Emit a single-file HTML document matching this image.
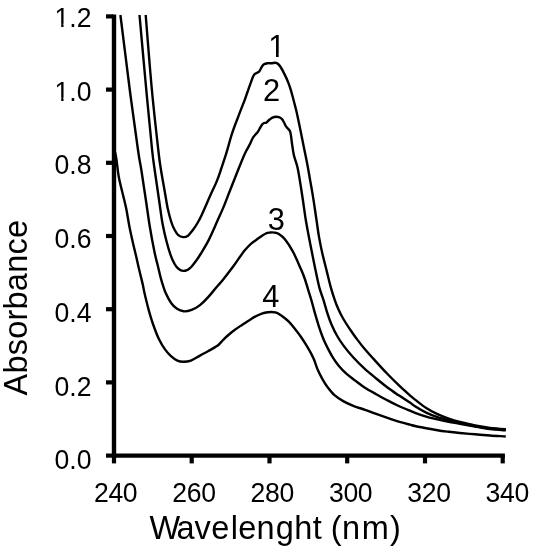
<!DOCTYPE html>
<html><head><meta charset="utf-8"><title>Absorbance spectra</title>
<style>
html,body{margin:0;padding:0;background:#fff;}
body{width:534px;height:550px;overflow:hidden;}
svg{display:block;}
text{font-family:"Liberation Sans",Arial,sans-serif;fill:#000;}
.cv{fill:none;stroke:#000;stroke-width:2.40px;stroke-linejoin:round;stroke-linecap:butt;}
</style></head><body>
<svg width="534" height="550" viewBox="0 0 534 550">
<rect width="534" height="550" fill="#fff"/>
<g class="cv">
<path d="M145.7 15.0C146.7 27.5 149.8 67.5 151.9 90.0C154.0 112.5 156.8 136.7 158.3 150.0C159.8 163.3 159.9 162.9 161.0 170.0C162.1 177.1 163.8 185.9 164.9 192.5C166.1 199.1 166.8 204.4 167.9 209.3C169.0 214.2 170.2 218.6 171.3 222.0C172.4 225.4 173.5 227.8 174.7 230.0C175.9 232.2 176.9 234.0 178.3 235.2C179.7 236.4 181.5 237.0 183.1 237.1C184.7 237.2 186.3 236.9 188.0 235.7C189.7 234.4 191.6 231.7 193.2 229.6C194.8 227.5 196.1 225.4 197.5 223.0C198.9 220.6 199.7 219.2 201.7 214.9C203.7 210.6 207.2 202.4 209.6 197.0C212.0 191.6 214.4 186.9 216.3 182.4C218.2 177.9 219.2 174.8 220.8 170.0C222.4 165.2 224.2 160.0 226.1 153.9C228.0 147.8 229.9 140.1 232.0 133.7C234.1 127.2 236.7 120.8 238.8 115.2C240.9 109.6 243.2 103.9 244.7 100.0C246.1 96.1 246.6 94.5 247.5 92.0C248.4 89.5 249.0 87.5 250.0 84.8C251.0 82.1 252.5 77.7 253.5 75.8C254.5 73.9 255.1 73.9 256.1 73.2C257.1 72.5 258.4 72.4 259.3 71.4C260.2 70.4 260.7 68.5 261.5 67.3C262.3 66.1 262.9 65.0 264.0 64.3C265.1 63.6 266.6 63.4 267.8 63.2C269.1 63.0 270.2 63.4 271.5 63.3C272.8 63.2 274.2 62.7 275.3 62.8C276.4 62.9 277.2 63.2 278.1 64.0C279.0 64.8 279.8 65.8 280.9 67.5C282.0 69.2 283.4 71.8 284.6 74.4C285.9 77.0 287.3 80.1 288.4 82.9C289.5 85.7 290.3 88.4 291.2 91.3C292.1 94.2 292.6 96.5 293.6 100.3C294.6 104.1 296.0 109.2 297.1 114.2C298.2 119.2 299.3 124.5 300.4 130.0C301.5 135.4 302.7 141.3 303.8 146.9C304.9 152.5 306.1 158.1 307.2 163.7C308.3 169.3 309.2 175.0 310.2 180.6C311.2 186.2 312.1 190.8 313.1 197.4C314.2 204.0 315.5 213.4 316.5 220.0C317.5 226.6 318.0 231.3 319.0 236.9C320.0 242.5 321.1 248.1 322.4 253.7C323.7 259.3 325.2 265.0 326.6 270.6C328.0 276.2 329.4 282.4 330.8 287.4C332.2 292.3 333.6 296.7 334.9 300.3C336.1 303.9 337.0 306.1 338.3 309.0C339.6 311.9 340.9 314.7 342.8 318.0C344.7 321.3 347.1 325.1 349.5 328.6C351.9 332.1 354.2 335.5 356.9 339.1C359.6 342.7 362.6 346.6 365.8 350.3C369.0 354.1 372.4 357.7 376.0 361.6C379.6 365.6 383.7 370.1 387.5 374.0C391.3 377.9 395.0 381.6 398.7 385.2C402.4 388.8 407.2 392.9 409.9 395.3C412.6 397.7 412.3 397.5 415.0 399.6C417.7 401.7 422.4 405.6 426.2 408.0C429.9 410.4 433.8 412.4 437.5 414.2C441.2 416.0 445.0 417.4 448.7 418.7C452.4 420.0 455.5 420.9 459.9 422.0C464.3 423.1 470.0 424.5 475.0 425.5C480.0 426.5 484.9 427.3 490.0 427.9C495.1 428.5 503.2 429.1 505.8 429.3"/>
<path d="M139.5 15.0C140.6 27.5 144.2 67.5 146.3 90.0C148.4 112.5 150.7 136.7 152.1 150.0C153.5 163.3 153.8 163.3 154.7 170.0C155.6 176.7 156.7 183.7 157.6 190.0C158.5 196.3 159.4 202.3 160.2 208.0C161.0 213.7 161.5 218.3 162.6 224.0C163.7 229.7 165.3 236.8 166.7 242.0C168.0 247.2 169.4 251.6 170.7 255.3C172.0 259.0 173.3 261.7 174.6 264.0C175.9 266.3 177.3 267.9 178.7 269.0C180.1 270.1 181.6 270.8 183.1 270.9C184.6 271.0 186.2 270.4 187.6 269.8C188.9 269.2 190.0 268.2 191.2 267.0C192.4 265.8 193.4 264.5 195.0 262.3C196.6 260.1 198.4 257.6 200.6 254.0C202.8 250.4 205.7 245.9 208.4 240.6C211.1 235.3 214.4 227.6 216.9 222.0C219.4 216.4 221.4 212.2 223.6 206.9C225.8 201.6 227.9 195.7 230.2 190.0C232.4 184.3 234.7 178.5 237.1 172.5C239.5 166.5 242.5 158.7 244.7 153.9C246.8 149.2 248.7 146.7 250.0 144.0C251.3 141.3 251.6 140.0 252.8 138.0C254.1 136.0 256.2 133.9 257.5 132.2C258.8 130.4 259.5 128.8 260.3 127.5C261.1 126.2 261.7 125.0 262.3 124.2C262.9 123.5 263.3 123.3 264.0 123.0C264.7 122.7 265.4 123.2 266.4 122.6C267.3 122.0 268.7 120.3 269.7 119.5C270.7 118.7 271.4 118.0 272.5 117.6C273.6 117.1 275.0 116.8 276.2 116.8C277.4 116.8 278.8 117.0 279.8 117.5C280.8 118.0 281.6 118.6 282.3 119.5C283.0 120.4 283.6 121.7 284.2 122.8C284.8 123.9 285.1 125.0 285.7 126.0C286.3 127.0 287.2 127.7 287.9 128.6C288.6 129.5 289.5 130.1 290.0 131.3C290.5 132.5 290.6 133.7 291.0 135.9C291.4 138.1 291.6 141.1 292.1 144.3C292.6 147.5 293.0 151.5 293.9 155.3C294.8 159.1 296.3 162.3 297.4 167.1C298.5 171.9 299.5 178.3 300.4 183.9C301.3 189.5 302.1 194.8 303.0 200.8C303.9 206.8 304.8 214.0 305.8 220.0C306.8 226.0 307.8 231.3 308.9 236.9C310.0 242.5 311.1 248.1 312.2 253.7C313.3 259.3 314.4 265.0 315.6 270.6C316.8 276.2 318.0 282.4 319.3 287.4C320.6 292.3 322.3 296.1 323.6 300.3C324.9 304.5 325.8 308.3 327.1 312.4C328.4 316.5 329.9 320.8 331.6 324.7C333.3 328.6 335.1 332.4 337.2 336.0C339.2 339.6 341.2 342.5 343.9 346.1C346.6 349.7 350.0 353.8 353.4 357.5C356.8 361.2 360.2 364.7 364.0 368.2C367.8 371.7 372.3 375.3 376.2 378.5C380.1 381.7 383.8 384.7 387.5 387.5C391.2 390.3 395.0 392.8 398.7 395.3C402.4 397.8 407.2 400.8 409.9 402.6C412.6 404.4 412.3 404.6 415.0 406.3C417.7 408.0 422.4 410.8 426.2 412.6C429.9 414.4 433.8 415.9 437.5 417.2C441.2 418.5 445.0 419.4 448.7 420.3C452.4 421.2 455.5 421.9 459.9 422.9C464.3 423.8 470.0 425.1 475.0 426.0C480.0 426.9 484.9 427.9 490.0 428.5C495.1 429.1 503.2 429.6 505.8 429.8"/>
<path d="M120.4 15.0C122.0 27.5 126.9 67.5 129.8 90.0C132.7 112.5 136.1 136.5 138.0 150.0C139.9 163.5 140.2 162.6 141.5 171.0C142.8 179.4 144.5 191.1 145.9 200.3C147.3 209.5 148.3 217.4 149.7 226.0C151.1 234.6 153.1 245.2 154.5 252.0C155.9 258.8 156.9 261.9 158.0 266.5C159.1 271.1 159.9 275.2 161.2 279.6C162.5 284.0 164.0 289.2 165.7 293.1C167.4 297.0 169.4 300.6 171.3 303.2C173.2 305.8 174.9 307.4 177.0 308.8C179.1 310.2 181.3 311.1 183.7 311.3C186.1 311.5 188.9 310.9 191.6 309.9C194.3 308.9 197.2 307.3 200.0 305.1C202.8 302.9 205.6 300.0 208.4 296.9C211.2 293.8 214.5 289.5 216.9 286.7C219.3 283.9 220.0 283.5 222.8 280.0C225.6 276.5 230.8 269.7 233.7 265.8C236.6 261.9 238.1 259.4 240.0 256.8C241.9 254.2 243.1 252.2 245.0 250.0C246.9 247.8 248.9 245.5 251.2 243.6C253.4 241.7 256.1 240.0 258.5 238.3C260.9 236.6 263.8 234.5 265.8 233.5C267.8 232.5 269.1 232.7 270.5 232.5C271.9 232.3 273.2 232.4 274.5 232.6C275.8 232.8 276.7 232.6 278.4 233.7C280.1 234.8 282.5 236.2 284.9 239.2C287.3 242.1 290.3 246.8 292.8 251.4C295.3 256.0 298.1 262.6 300.0 267.0C301.9 271.4 303.1 274.0 304.5 278.0C305.9 282.0 307.4 287.1 308.5 290.8C309.6 294.5 310.4 296.7 311.4 300.3C312.4 303.9 313.5 308.1 314.7 312.4C315.9 316.6 317.3 321.5 318.7 325.8C320.1 330.1 321.5 334.2 323.1 338.2C324.7 342.2 326.8 346.3 328.5 349.6C330.2 352.9 331.4 355.2 333.1 357.9C334.8 360.6 336.5 363.1 338.7 365.7C340.9 368.3 343.5 371.2 346.3 373.7C349.1 376.2 352.5 378.5 355.6 380.9C358.7 383.2 361.6 385.6 365.0 387.8C368.4 390.0 372.4 392.1 376.2 394.2C379.9 396.3 383.8 398.4 387.5 400.4C391.2 402.4 395.0 404.3 398.7 406.0C402.4 407.7 407.2 409.6 409.9 410.7C412.6 411.8 412.3 411.8 415.0 412.8C417.7 413.8 422.4 415.5 426.2 416.6C429.9 417.7 433.8 418.5 437.5 419.4C441.2 420.3 445.0 421.1 448.7 421.8C452.4 422.5 455.5 423.0 459.9 423.8C464.3 424.6 470.0 425.7 475.0 426.6C480.0 427.5 484.9 428.5 490.0 429.1C495.1 429.7 503.2 430.2 505.8 430.4"/>
<path d="M115.0 152.0C115.2 153.1 115.6 154.2 116.3 158.5C117.0 162.8 117.8 171.4 118.9 177.5C120.0 183.6 121.7 189.5 123.0 194.9C124.3 200.3 125.5 204.8 126.5 210.0C127.5 215.2 128.3 220.8 129.3 226.0C130.3 231.2 131.4 236.1 132.5 241.0C133.6 245.9 134.7 250.3 135.9 255.3C137.1 260.3 138.3 266.0 139.5 271.0C140.7 276.0 142.2 281.8 143.0 285.5C143.8 289.2 143.6 289.4 144.6 293.5C145.6 297.6 147.3 305.0 148.8 310.3C150.3 315.6 151.8 320.7 153.5 325.5C155.2 330.3 157.0 335.1 158.9 339.0C160.8 342.9 162.8 346.3 164.8 349.1C166.8 351.9 168.6 353.9 170.7 355.8C172.8 357.7 175.3 359.6 177.4 360.6C179.5 361.6 181.1 361.7 183.3 361.7C185.6 361.7 188.1 361.6 190.9 360.6C193.7 359.6 197.1 357.2 200.0 355.6C202.9 354.0 205.6 352.6 208.4 351.0C211.2 349.4 215.0 347.4 217.0 346.0C219.0 344.6 219.4 343.9 220.5 342.8C221.6 341.7 222.3 340.7 223.7 339.3C225.1 337.9 227.1 336.1 229.0 334.5C230.9 332.9 232.7 331.4 234.9 329.8C237.1 328.2 239.5 326.6 242.0 324.9C244.5 323.2 247.9 321.1 250.0 319.8C252.1 318.5 252.5 318.0 254.6 316.9C256.7 315.8 260.3 314.2 262.5 313.4C264.7 312.6 266.5 312.4 268.0 312.2C269.5 312.0 270.3 312.0 271.5 312.0C272.7 312.0 273.9 312.1 275.0 312.4C276.1 312.6 276.6 312.5 278.2 313.5C279.8 314.5 282.9 316.6 284.9 318.2C286.9 319.8 288.2 320.9 290.0 322.8C291.8 324.7 293.7 327.4 295.6 329.8C297.5 332.2 299.3 334.5 301.2 337.2C303.1 339.9 305.2 343.3 306.9 346.1C308.6 348.9 310.1 351.6 311.3 353.9C312.5 356.2 313.2 357.5 314.2 360.0C315.2 362.5 316.1 366.1 317.4 369.1C318.7 372.1 320.2 375.1 321.9 378.1C323.6 381.1 325.4 384.3 327.5 387.1C329.6 389.9 331.6 392.6 334.2 394.9C336.8 397.2 340.0 399.3 343.2 401.1C346.4 402.9 349.7 404.4 353.3 405.8C356.9 407.2 361.2 408.5 365.0 409.8C368.8 411.1 372.4 412.6 376.2 413.9C379.9 415.2 383.8 416.5 387.5 417.8C391.2 419.1 395.0 420.6 398.7 421.7C402.4 422.8 407.2 424.0 409.9 424.7C412.6 425.4 412.3 425.4 415.0 426.0C417.7 426.6 422.4 427.5 426.2 428.2C429.9 428.9 433.8 429.6 437.5 430.2C441.2 430.8 445.0 431.3 448.7 431.8C452.4 432.3 455.5 432.6 459.9 433.0C464.3 433.4 470.0 433.9 475.0 434.3C480.0 434.7 484.9 435.1 490.0 435.5C495.1 435.9 503.2 436.3 505.8 436.5"/>
</g>
<g stroke="#000" stroke-width="4.4" fill="none">
<path d="M114 14.6 V457.8"/>
<path d="M112 455.6 H504.9"/>
</g>
<g stroke="#000" stroke-width="4.2" fill="none">
<path d="M106 16.4 H113"/>
<path d="M106 89.6 H113"/>
<path d="M106 162.8 H113"/>
<path d="M106 236.0 H113"/>
<path d="M106 309.2 H113"/>
<path d="M106 382.4 H113"/>
<path d="M106 455.6 H113"/>
<path d="M114.0 455 V463.4"/>
<path d="M191.7 455 V463.4"/>
<path d="M269.5 455 V463.4"/>
<path d="M347.2 455 V463.4"/>
<path d="M425.0 455 V463.4"/>
<path d="M502.7 455 V463.4"/>
</g>
<text transform="translate(91.5 27.0) scale(1.000 1.040)" text-anchor="end" style="font-size:26.6px;">1.2</text>
<text transform="translate(91.5 100.7) scale(1.000 1.040)" text-anchor="end" style="font-size:26.6px;">1.0</text>
<text transform="translate(91.5 174.4) scale(1.000 1.040)" text-anchor="end" style="font-size:26.6px;">0.8</text>
<text transform="translate(91.5 248.1) scale(1.000 1.040)" text-anchor="end" style="font-size:26.6px;">0.6</text>
<text transform="translate(91.5 321.8) scale(1.000 1.040)" text-anchor="end" style="font-size:26.6px;">0.4</text>
<text transform="translate(91.5 395.5) scale(1.000 1.040)" text-anchor="end" style="font-size:26.6px;">0.2</text>
<text transform="translate(91.5 469.2) scale(1.000 1.040)" text-anchor="end" style="font-size:26.6px;">0.0</text>
<text transform="translate(93.9 501.6) scale(1.000 1.040)" text-anchor="start" style="font-size:26.6px;letter-spacing:-0.30px;">240</text>
<text transform="translate(172.2 501.6) scale(1.000 1.040)" text-anchor="start" style="font-size:26.6px;letter-spacing:-0.30px;">260</text>
<text transform="translate(250.6 501.6) scale(1.000 1.040)" text-anchor="start" style="font-size:26.6px;letter-spacing:-0.30px;">280</text>
<text transform="translate(328.9 501.6) scale(1.000 1.040)" text-anchor="start" style="font-size:26.6px;letter-spacing:-0.30px;">300</text>
<text transform="translate(407.3 501.6) scale(1.000 1.040)" text-anchor="start" style="font-size:26.6px;letter-spacing:-0.30px;">320</text>
<text transform="translate(485.6 501.6) scale(1.000 1.040)" text-anchor="start" style="font-size:26.6px;letter-spacing:-0.30px;">340</text>
<text transform="translate(149.6 539.2) scale(1.000 1.050)" text-anchor="start" style="font-size:32.5px;letter-spacing:0.25px;" dx="0 -2.8 -0.3 0.3 1 0.2 -0.3 1 0.3 0 0 -0.4 0 1.4 0.9">Wavelenght (nm)</text>
<text transform="translate(27.2 395.4) rotate(-90) scale(1.000 1.020)" text-anchor="start" style="font-size:32.5px;letter-spacing:0.22px;">Absorbance</text>
<text transform="translate(268.3 56.8)" text-anchor="start" style="font-size:30.8px;">1</text>
<text transform="translate(263.0 100.8)" text-anchor="start" style="font-size:30.8px;">2</text>
<text transform="translate(267.7 230.2)" text-anchor="start" style="font-size:30.8px;">3</text>
<text transform="translate(262.2 306.8)" text-anchor="start" style="font-size:30.8px;">4</text>
<g fill="#fff">
<rect x="269" y="53.6" width="7" height="4"/><rect x="278.7" y="53.6" width="6.5" height="4"/>
<rect x="55" y="23.6" width="6.2" height="4.4"/><rect x="63.55" y="23.6" width="5" height="4.4"/>
<rect x="55" y="97.3" width="6.2" height="4.4"/><rect x="63.55" y="97.3" width="5" height="4.4"/>
</g>
</svg>
</body></html>
